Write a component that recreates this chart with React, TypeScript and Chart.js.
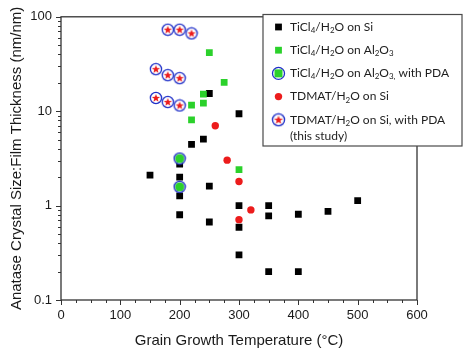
import React, { useEffect, useRef } from "react";
import { Chart, registerables } from "chart.js";

Chart.register(...registerables);

// ---- Data ----
const siX = [150, 200, 200, 200, 200, 220, 240, 250, 250, 250, 300, 300, 300, 300, 350, 350, 350, 400, 400, 450, 500];
const siY = [2.1, 2.75, 2.0, 1.27, 0.8, 4.46, 5.07, 15.4, 1.61, 0.67, 9.4, 1.0, 0.59, 0.3, 1.0, 0.78, 0.2, 0.81, 0.2, 0.87, 1.13];

const alX = [220, 220, 240, 240, 250, 275, 300];
const alY = [11.6, 8.1, 15.2, 12.2, 41.8, 20.2, 2.4];

const alPdaX = [200, 200];
const alPdaY = [3.15, 1.58];

const tdmatX = [260, 280, 300, 300, 320];
const tdmatY = [7.0, 3.03, 1.8, 0.71, 0.9];

const tdmatPdaX = [180, 200, 220, 160, 180, 200, 160, 180, 200];
const tdmatPdaY = [73, 73, 66.7, 27.9, 24.1, 22.4, 13.8, 12.5, 11.5];

const yTickValues = [0.1, 1, 10, 100];
const xTitle = "Grain Growth Temperature (°C)";
const yTitle = "Anatase Crystal Size:Film Thickness (nm/nm)";

// legend labels: [text, isSubscript]
const legendLabels: [string, boolean][][] = [
  [["TiCl", false], ["4", true], ["/H", false], ["2", true], ["O on Si", false]],
  [["TiCl", false], ["4", true], ["/H", false], ["2", true], ["O on Al", false], ["2", true], ["O", false], ["3", true]],
  [["TiCl", false], ["4", true], ["/H", false], ["2", true], ["O on Al", false], ["2", true], ["O", false], ["3,", true], [" with PDA", false]],
  [["TDMAT/H", false], ["2", true], ["O on Si", false]],
  [["TDMAT/H", false], ["2", true], ["O on Si, with PDA", false]],
];
const legendExtraLine = "(this study)";

// ---- Styles ----
const BLACK = "#000000";
const GREEN = "#2bd12b";
const RED = "#ec1c1c";
const BLUE = "#1f2fc8";
const FRAME = "#333333";

function toPoints(xs: number[], ys: number[]) {
  return xs.map((x, i) => ({ x, y: ys[i] }));
}

function makeStarCircle(): HTMLCanvasElement {
  const c = document.createElement("canvas");
  c.width = 14;
  c.height = 14;
  const ctx = c.getContext("2d")!;
  ctx.beginPath();
  ctx.arc(7, 7, 5.6, 0, Math.PI * 2);
  ctx.fillStyle = "#ffffff";
  ctx.fill();
  ctx.lineWidth = 1.3;
  ctx.strokeStyle = BLUE;
  ctx.stroke();
  ctx.beginPath();
  for (let i = 0; i < 10; i++) {
    const r = i % 2 === 0 ? 4.3 : 1.8;
    const a = -Math.PI / 2 + (i * Math.PI) / 5;
    const px = 7 + r * Math.cos(a);
    const py = 7.3 + r * Math.sin(a);
    if (i === 0) ctx.moveTo(px, py);
    else ctx.lineTo(px, py);
  }
  ctx.closePath();
  ctx.fillStyle = RED;
  ctx.fill();
  return c;
}

function makeGreenCircle(): HTMLCanvasElement {
  const c = document.createElement("canvas");
  c.width = 14;
  c.height = 14;
  const ctx = c.getContext("2d")!;
  ctx.beginPath();
  ctx.arc(7, 7, 5.6, 0, Math.PI * 2);
  ctx.fillStyle = "#ffffff";
  ctx.fill();
  ctx.fillStyle = GREEN;
  ctx.beginPath();
  ctx.arc(7, 7, 4.6, 0, Math.PI * 2);
  ctx.fill();
  ctx.lineWidth = 1.3;
  ctx.strokeStyle = BLUE;
  ctx.beginPath();
  ctx.arc(7, 7, 5.6, 0, Math.PI * 2);
  ctx.stroke();
  return c;
}

export default function App() {
  const ref = useRef<HTMLCanvasElement | null>(null);

  useEffect(() => {
    if (!ref.current) return;
    const starImg = makeStarCircle();
    const greenImg = makeGreenCircle();

    const framePlugin = {
      id: "frameTicks",
      afterDraw(chart: any) {
        const { ctx, chartArea } = chart;
        const xs = chart.scales.x;
        const ys = chart.scales.y;
        const { left, right, top, bottom } = chartArea;
        ctx.save();
        ctx.strokeStyle = FRAME;
        ctx.lineWidth = 1.3;
        ctx.strokeRect(left, top, right - left, bottom - top);
        ctx.lineWidth = 1;
        ctx.beginPath();
        // x ticks (outward, down)
        for (let v = 0; v <= 600; v += 25) {
          const px = Math.round(xs.getPixelForValue(v)) + 0.5;
          const len = v % 100 === 0 ? 5 : 3;
          ctx.moveTo(px, bottom);
          ctx.lineTo(px, bottom + len);
        }
        // y ticks (outward, left)
        for (let d = 0.1; d < 100; d *= 10) {
          for (let m = 1; m <= 10; m++) {
            const v = d * m;
            const py = Math.round(ys.getPixelForValue(v)) + 0.5;
            const len = m === 1 || m === 10 ? 5 : 3;
            ctx.moveTo(left, py);
            ctx.lineTo(left - len, py);
          }
        }
        ctx.stroke();

        // legend box
        const lx = 263, ly = 14.5, lw = 199, lh = 131.5;
        ctx.fillStyle = "#ffffff";
        ctx.fillRect(lx, ly, lw, lh);
        ctx.strokeStyle = "#4a4a4a";
        ctx.lineWidth = 1.2;
        ctx.strokeRect(lx, ly, lw, lh);

        const rowY = [27, 50.2, 73.4, 96.6, 119.8];
        const mx = 278.5;
        const tx = 290;
        // markers
        ctx.fillStyle = BLACK;
        ctx.fillRect(mx - 3.4, rowY[0] - 3.4, 6.8, 6.8);
        ctx.fillStyle = GREEN;
        ctx.fillRect(mx - 3.4, rowY[1] - 3.4, 6.8, 6.8);
        ctx.fillStyle = GREEN;
        ctx.fillRect(mx - 4, rowY[2] - 4, 8, 8);
        ctx.beginPath();
        ctx.arc(mx, rowY[2], 6, 0, Math.PI * 2);
        ctx.strokeStyle = BLUE;
        ctx.lineWidth = 1.3;
        ctx.stroke();
        ctx.fillStyle = RED;
        ctx.beginPath();
        ctx.arc(mx, rowY[3], 3.7, 0, Math.PI * 2);
        ctx.fill();
        ctx.drawImage(starImg, mx - 7.5, rowY[4] - 7.5, 15, 15);

        // text
        const mainFont = "12px Lato, 'Open Sans', sans-serif";
        const subFont = "8px Lato, 'Open Sans', sans-serif";
        ctx.fillStyle = "#1e1e1e";
        ctx.textAlign = "left";
        ctx.textBaseline = "middle";
        legendLabels.forEach((parts, i) => {
          let cx = tx;
          parts.forEach(([t, sub]) => {
            ctx.font = sub ? subFont : mainFont;
            ctx.fillText(t, cx, rowY[i] + (sub ? 3.5 : 0));
            cx += ctx.measureText(t).width;
          });
        });
        ctx.font = mainFont;
        ctx.fillText(legendExtraLine, tx, 136);
        ctx.restore();
      },
    };

    const chart = new Chart(ref.current, {
      type: "scatter",
      data: {
        datasets: [
          {
            label: "TiCl4/H2O on Si",
            data: toPoints(siX, siY),
            pointStyle: "rect",
            pointRadius: 4.8,
            pointBackgroundColor: BLACK,
            pointBorderWidth: 0,
            order: 5,
          },
          {
            label: "TiCl4/H2O on Al2O3",
            data: toPoints(alX, alY),
            pointStyle: "rect",
            pointRadius: 4.8,
            pointBackgroundColor: GREEN,
            pointBorderWidth: 0,
            order: 4,
          },
          {
            label: "TiCl4/H2O on Al2O3, with PDA",
            data: toPoints(alPdaX, alPdaY),
            pointStyle: greenImg as any,
            pointRadius: 7,
            order: 3,
          },
          {
            label: "TDMAT/H2O on Si",
            data: toPoints(tdmatX, tdmatY),
            pointStyle: "circle",
            pointRadius: 3.7,
            pointBackgroundColor: RED,
            pointBorderWidth: 0,
            order: 2,
          },
          {
            label: "TDMAT/H2O on Si, with PDA (this study)",
            data: toPoints(tdmatPdaX, tdmatPdaY),
            pointStyle: starImg as any,
            pointRadius: 7,
            order: 1,
          },
        ],
      },
      options: {
        animation: false,
        responsive: false,
        devicePixelRatio: 1,
        layout: { padding: { top: 15, right: 57, left: 0, bottom: 0 } },
        plugins: {
          legend: { display: false },
          tooltip: { enabled: false },
        },
        scales: {
          x: {
            type: "linear",
            min: 0,
            max: 600,
            grid: { display: false, drawTicks: false, tickLength: 0 },
            border: { display: false },
            ticks: {
              stepSize: 100,
              color: "#1a1a1a",
              font: { family: "'Liberation Sans', Arial, sans-serif", size: 13 },
              padding: 8,
              maxRotation: 0,
            },
            title: {
              display: true,
              text: xTitle,
              color: "#1a1a1a",
              font: { family: "'Liberation Sans', Arial, sans-serif", size: 15 },
              padding: { top: 0, bottom: 3 },
            },
            afterFit(scale: any) {
              scale.height = 53;
            },
          },
          y: {
            type: "logarithmic",
            min: 0.1,
            max: 100,
            grid: { display: false, drawTicks: false, tickLength: 0 },
            border: { display: false },
            afterBuildTicks(scale: any) {
              scale.ticks = yTickValues.map((v) => ({ value: v }));
            },
            ticks: {
              color: "#1a1a1a",
              font: { family: "'Liberation Sans', Arial, sans-serif", size: 13 },
              padding: 9,
              callback: (v: any) => String(v),
            },
            title: {
              display: true,
              text: yTitle,
              color: "#1a1a1a",
              font: { family: "'Liberation Sans', Arial, sans-serif", size: 15 },
              padding: { top: 8, bottom: 0 },
            },
            afterFit(scale: any) {
              scale.width = 61;
            },
          },
        },
      } as any,
      plugins: [framePlugin],
    });
    return () => chart.destroy();
  }, []);

  return (
    <div style={{ position: "absolute", left: 0, top: 0, width: 474, height: 353, background: "#fff" }}>
      <canvas ref={ref} width={474} height={353} style={{ width: 474, height: 353, display: "block" }} />
    </div>
  );
}
